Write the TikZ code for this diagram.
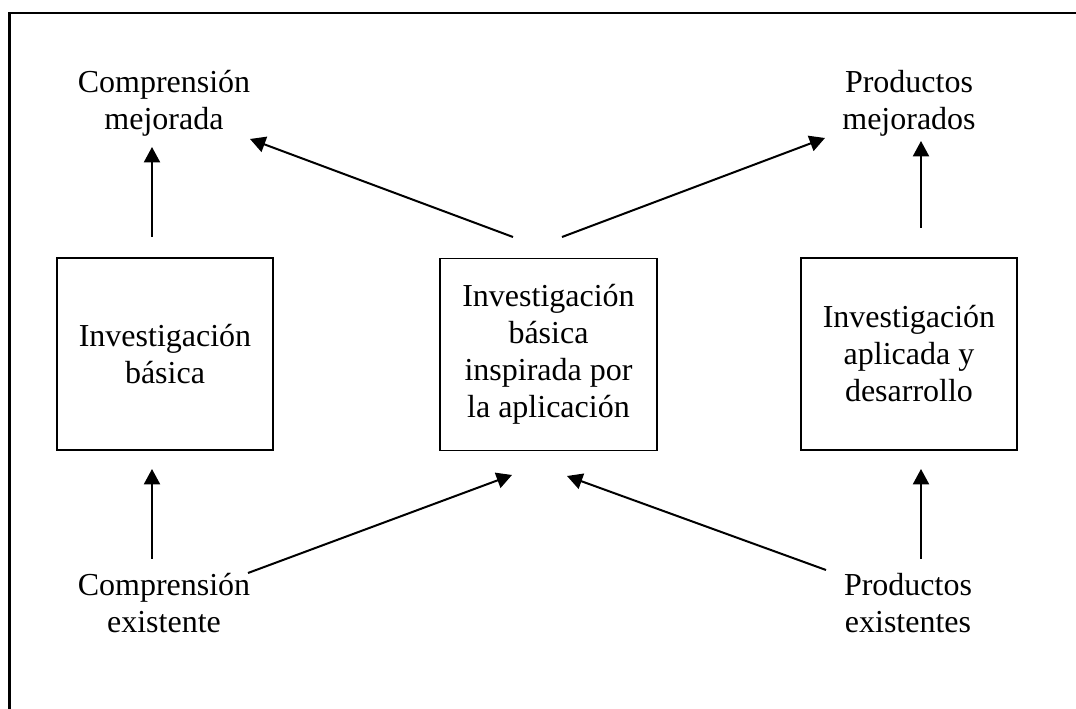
\documentclass[tikz,border=0pt]{standalone}
\usepackage{fontspec}
\setmainfont{Liberation Serif}
\usetikzlibrary{arrows.meta}
\begin{document}
\begin{tikzpicture}[x=0.75pt,y=-0.75pt,
  every node/.style={font=\fontsize{24pt}{27.75pt}\selectfont, inner sep=0pt, align=center},
  stage/.style={draw, line width=1.1pt, minimum width=162pt, minimum height=144pt},
  label/.style={},
  arr/.style={line width=1.5pt, -{Triangle[length=11.5pt,width=12pt]}}]
  \useasboundingbox (0,0) rectangle (1076,709);
  % outer frame
  \draw[line width=1.7pt] (9.5,720) -- (9.5,13) -- (1090,13);

  % three research stages
  \node[stage] (basic) at (165,354) {Investigación\\básica};
  \node[stage, minimum width=163pt] (inspired) at (548.5,354.5) {Investigación\\básica\\inspirada por\\la aplicación};
  \node[stage] (applied) at (909,354) {Investigación\\aplicada y\\desarrollo};

  % inputs and outcomes
  \node[label] (undImp) at (164,103) {Comprensión\\mejorada};
  \node[label] (prodImp) at (909,103) {Productos\\mejorados};
  \node[label] (undEx) at (164,603) {Comprensión\\existente};
  \node[label] (prodEx) at (908,603) {Productos\\existentes};

  % connector end points
  \coordinate (b-up) at (152,237);   \coordinate (u-in) at (152,147);
  \coordinate (i-upl) at (513,237);  \coordinate (u-in2) at (250,139);
  \coordinate (i-upr) at (562,237);  \coordinate (p-in2) at (825,138);
  \coordinate (a-up) at (921,228);   \coordinate (p-in) at (921,141);
  \coordinate (ue-out) at (152,559); \coordinate (b-in) at (152,469);
  \coordinate (ue-out2) at (248,573);\coordinate (i-inl) at (512,475);
  \coordinate (pe-out2) at (826,570);\coordinate (i-inr) at (567,476);
  \coordinate (pe-out) at (921,559); \coordinate (a-in) at (921,469);

  % flows
  \draw[arr] (b-up) -- (u-in);
  \draw[arr] (i-upl) -- (u-in2);
  \draw[arr] (i-upr) -- (p-in2);
  \draw[arr] (a-up) -- (p-in);
  \draw[arr] (ue-out) -- (b-in);
  \draw[arr] (ue-out2) -- (i-inl);
  \draw[arr] (pe-out2) -- (i-inr);
  \draw[arr] (pe-out) -- (a-in);
\end{tikzpicture}
\end{document}
